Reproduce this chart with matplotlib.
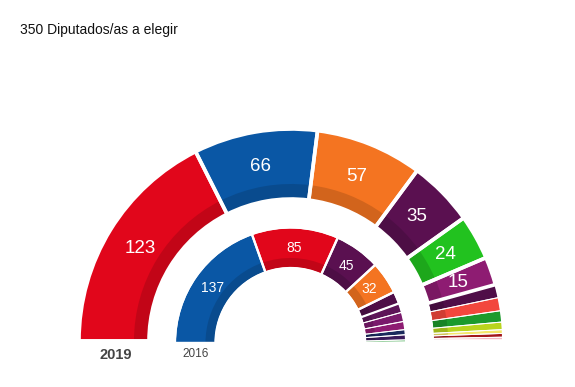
import numpy as np
import matplotlib.pyplot as plt
from matplotlib.colors import to_rgb

plt.rcParams['font.family'] = ['Liberation Sans', 'DejaVu Sans']

# escaños 2019 (anillo exterior)
seats_2019 = [123, 66, 57, 35, 24, 15, 7, 7, 6, 4, 2, 2, 2]
colors_2019 = ['#e1061b', '#0a57a5', '#f47421', '#5a1050', '#22c21f', '#8e1c72',
               '#4f0e48', '#f2473d', '#1c9a2c', '#b9d41e', '#f4e66b', '#a3161b', '#f6b8c4']
labels_2019 = ['123', '66', '57', '35', '24', '15', '', '', '', '', '', '', '']

# escaños 2016 (anillo interior)
seats_2016 = [137, 85, 45, 32, 12, 9, 9, 8, 5, 5, 2, 1]
colors_2016 = ['#0a57a5', '#e1061b', '#5a1050', '#f47421', '#4f0e48', '#5d1458',
               '#7a1a6c', '#8e1c72', '#1a2a5c', '#3a1a5a', '#1c9a2c', '#7ed321']
labels_2016 = ['137', '85', '45', '32', '', '', '', '', '', '', '', '']


def darker(c, f=0.86):
    return tuple(v * f for v in to_rgb(c))


def half_ring(ax, seats, colors, labels, center, r_out, width, band, lw, fs):
    total = sum(seats)
    vals = seats + [total]
    kw = dict(startangle=180, counterclock=False, center=center)
    ax.pie(vals, colors=list(colors) + ['none'], radius=r_out,
           wedgeprops=dict(width=width, linewidth=0), **kw)
    # banda oscura interior (efecto 3D)
    ax.pie(vals, colors=[darker(c) for c in colors] + ['none'],
           radius=r_out - width + band, wedgeprops=dict(width=band, linewidth=0), **kw)
    # separadores blancos
    seps, _ = ax.pie(vals, colors=['none'] * len(vals), radius=r_out + 1,
                     wedgeprops=dict(width=width + 2, edgecolor='white'), **kw)
    for w, s in zip(seps, vals):
        w.set_linewidth(lw if s >= 10 else 0.7)
    cum = np.cumsum([0] + seats)
    r_mid = r_out - width / 2
    for i, lab in enumerate(labels):
        if not lab:
            continue
        ang = np.deg2rad(180 - 180 * (cum[i] + cum[i + 1]) / 2 / total)
        ax.text(center[0] + r_mid * np.cos(ang), center[1] + r_mid * np.sin(ang),
                lab, color='white', fontsize=fs, ha='center', va='center')


fig = plt.figure(figsize=(5.75, 3.87), dpi=100)
ax = fig.add_axes([0, 0, 1, 1])

half_ring(ax, seats_2019, colors_2019, labels_2019, (291, 46), 211, 68, 14, 2.6, 13.5)
half_ring(ax, seats_2016, colors_2016, labels_2016, (290.5, 44), 114.5, 38.5, 9, 1.6, 10)

ax.text(20, 357, '350 Diputados/as a elegir', fontsize=10, color='#111111',
        ha='left', va='center')
ax.text(116, 32, '2019', fontsize=10.5, color='#444444', ha='center', va='center',
        fontweight='bold')
ax.text(196, 33, '2016', fontsize=8.5, color='#444444', ha='center', va='center')

ax.set_xlim(0, 575)
ax.set_ylim(0, 387)
ax.set_aspect('equal')
ax.axis('off')

fig.savefig('out.png', dpi=100)
